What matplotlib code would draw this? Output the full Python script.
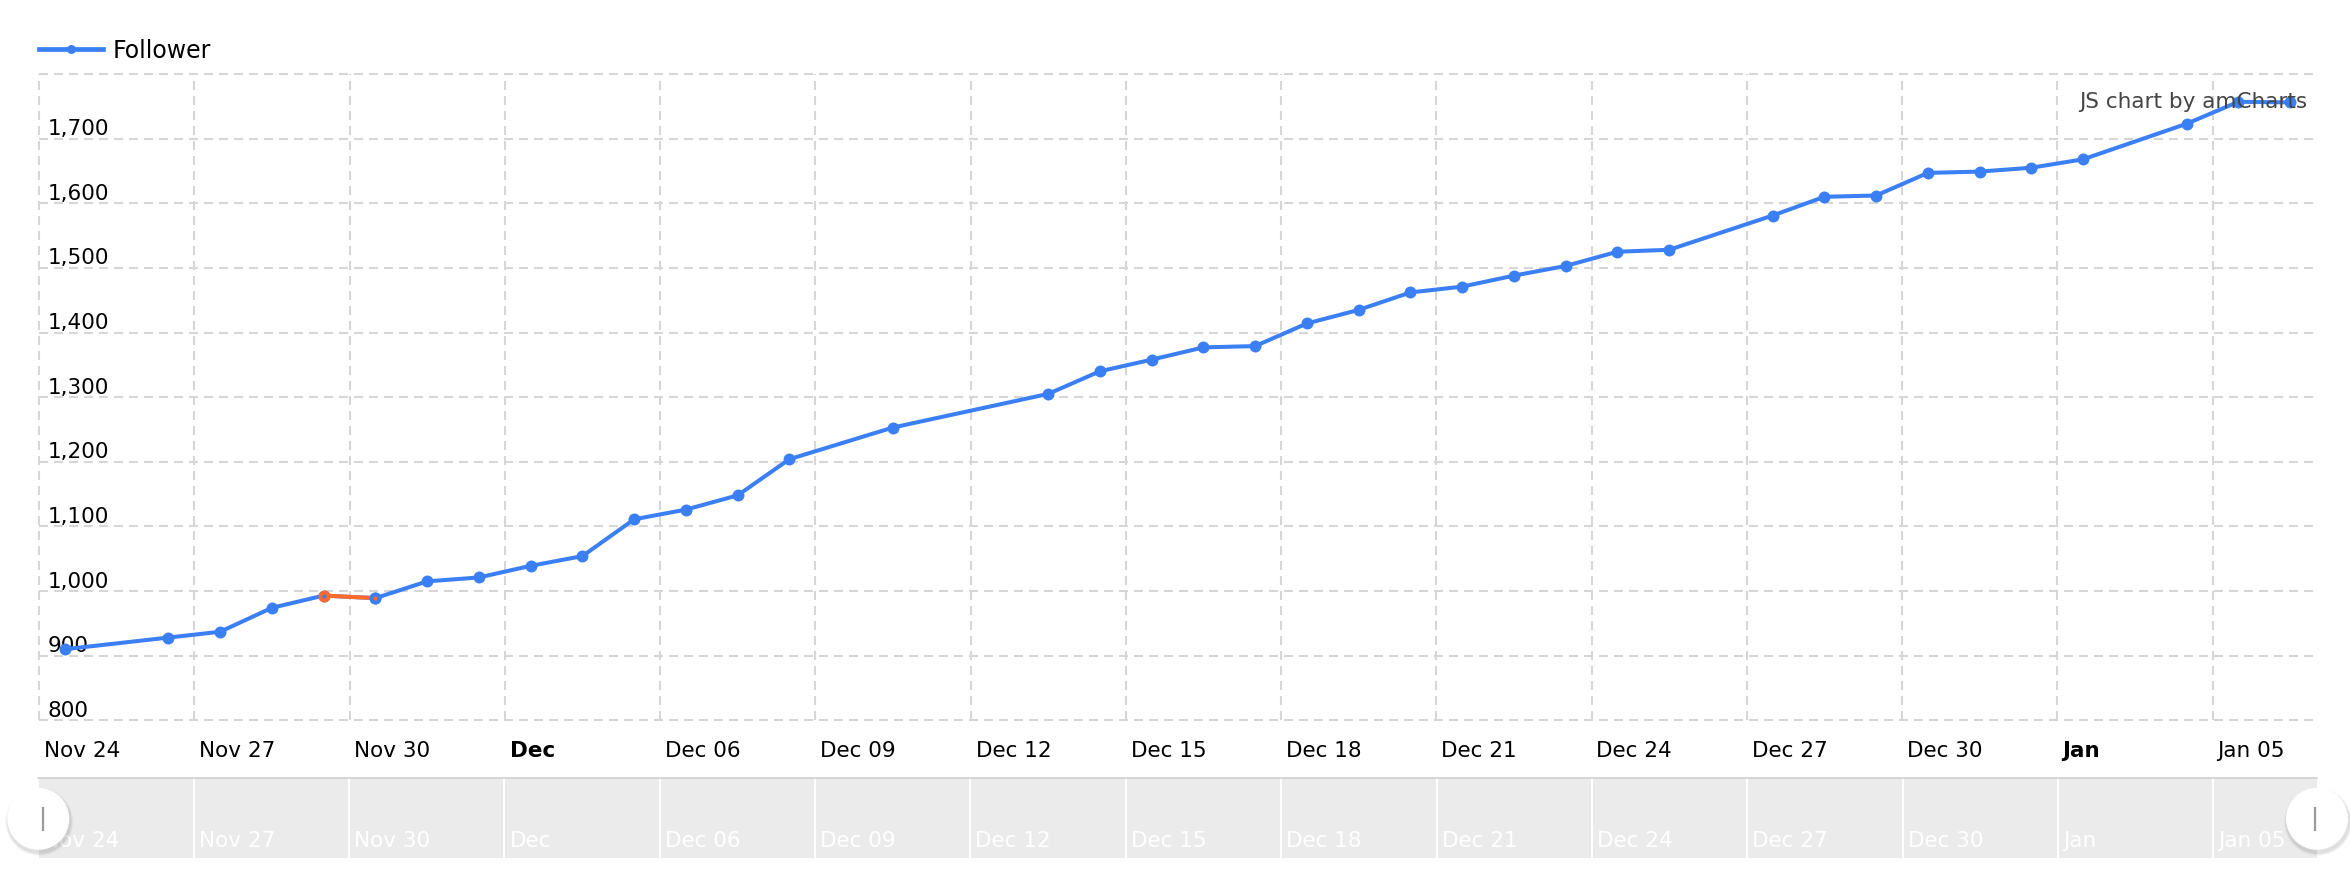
import pandas as pd
import matplotlib
matplotlib.use("Agg")
import matplotlib.pyplot as plt
from matplotlib.lines import Line2D
from matplotlib.patches import Circle
from matplotlib.transforms import ScaledTranslation, blended_transform_factory

# Werte
dates = ["2019-11-24", "2019-11-26", "2019-11-27", "2019-11-28", "2019-11-29",
         "2019-11-30", "2019-12-01", "2019-12-02", "2019-12-03", "2019-12-04",
         "2019-12-05", "2019-12-06", "2019-12-07", "2019-12-08", "2019-12-10",
         "2019-12-13", "2019-12-14", "2019-12-15", "2019-12-16", "2019-12-17",
         "2019-12-18", "2019-12-19", "2019-12-20", "2019-12-21", "2019-12-22",
         "2019-12-23", "2019-12-24", "2019-12-25", "2019-12-27", "2019-12-28",
         "2019-12-29", "2019-12-30", "2019-12-31", "2020-01-01", "2020-01-02",
         "2020-01-04", "2020-01-05", "2020-01-06"]
follower = [910, 928, 937, 974, 993,
            989, 1015, 1021, 1039, 1054,
            1111, 1126, 1148, 1204, 1253,
            1305, 1340, 1358, 1377, 1379,
            1414, 1435, 1462, 1471, 1488,
            1503, 1525, 1528, 1581, 1610,
            1612, 1647, 1649, 1655, 1668,
            1723, 1757, 1756]
highlight_start = "2019-11-29"   # Segment in Orange (bis zum naechsten Punkt)

x_start = "2019-11-24"
x_end = "2020-01-07"
tick_labels = ["Nov 24", "Nov 27", "Nov 30", "Dec", "Dec 06", "Dec 09", "Dec 12",
               "Dec 15", "Dec 18", "Dec 21", "Dec 24", "Dec 27", "Dec 30", "Jan", "Jan 05"]
y_ticks = [800, 900, 1000, 1100, 1200, 1300, 1400, 1500, 1600, 1700]
y_max = 1800

BLUE = "#3b7ff5"
ORANGE = "#ff6a2b"
GRID = "#d6d6d6"

W, H, DPI = 2350, 888, 100
FS = 15.5

plt.rcParams['font.family'] = ['DejaVu Sans']


def off(dx, dy, fig):
    # Pixel-Versatz (x nach rechts, y nach oben)
    return ScaledTranslation(dx / DPI, dy / DPI, fig.dpi_scale_trans)


fig = plt.figure(figsize=(W / DPI, H / DPI), dpi=DPI)

# Hauptdiagramm
left, right, top, bottom = 39, 2316, 74, 720.3
ax = fig.add_axes([left / W, 1 - bottom / H, (right - left) / W, (bottom - top) / H])

x = pd.to_datetime(dates) + pd.Timedelta(hours=12)
t0 = pd.Timestamp(x_start)
t1 = pd.Timestamp(x_end)
tick_dates = [t0 + pd.Timedelta(days=3 * k) for k in range(len(tick_labels))]

ax.set_xlim(t0, t1)
ax.set_ylim(y_ticks[0], y_max)
for s in ax.spines.values():
    s.set_visible(False)
ax.set_xticks([])
ax.set_yticks([])

dash = (0, (4.3, 2.9))
for v in y_ticks + [y_max]:
    ax.axhline(v, color=GRID, lw=1.5, ls=dash, clip_on=False, zorder=1)
for d in tick_dates:
    ax.axvline(d, color=GRID, lw=1.5, ls=dash, clip_on=False, zorder=1)

# y-Beschriftung innerhalb der Flaeche
ytr = blended_transform_factory(ax.transAxes, ax.transData)
for v in y_ticks:
    ax.text(0, v, f"{v:,}", transform=ytr + off(8.5, 3.5, fig), ha='left',
            va='baseline', fontsize=FS, color='black', zorder=2)

# x-Beschriftung
xtr = blended_transform_factory(ax.transData, ax.transAxes)
for d, lab in zip(tick_dates, tick_labels):
    bold = not any(c.isdigit() for c in lab)
    ax.text(d, 0, lab, transform=xtr + off(5, -37, fig), ha='left', va='baseline',
            fontsize=FS, fontweight='bold' if bold else 'normal', color='black')

# Linie
ax.plot(x, follower, color=BLUE, lw=2.9, marker='o', ms=8.6, mec='none',
        solid_joinstyle='round', solid_capstyle='round', zorder=3)
i = dates.index(highlight_start)
ax.plot(x[i:i + 2], follower[i:i + 2], color=ORANGE, lw=2.9, solid_capstyle='round', zorder=4)
ax.plot(x[i], follower[i], marker='o', ms=5.8, mfc=BLUE, mec=ORANGE, mew=2.8, zorder=5)
ax.plot(x[i + 1], follower[i + 1], marker='o', ms=5.8, mfc=ORANGE, mec=BLUE, mew=2.8, zorder=5)

# Legende
handle = Line2D([], [], color=BLUE, lw=3.4, marker='o', ms=6.5, mec='none')
ax.legend(handles=[handle], labels=["Follower"], loc='center left',
          bbox_to_anchor=(left / W, 1 - 50.7 / H), bbox_transform=fig.transFigure,
          frameon=False, borderpad=0, borderaxespad=0, handlelength=2.7,
          handletextpad=0.42, fontsize=17, numpoints=1)

# Wasserzeichen
fig.text(2307 / W, 1 - 108 / H, "JS chart by amCharts", ha='right', va='baseline',
         fontsize=FS, color='#444444', zorder=10)

# Scrollbar
s_left, s_right, s_top, s_bottom = 38.3, 2317, 778.3, 857.7
sb = fig.add_axes([s_left / W, 1 - s_bottom / H, (s_right - s_left) / W, (s_bottom - s_top) / H])
sb.set_facecolor('#ebebeb')
sb.set_xlim(t0, t1)
sb.set_ylim(0, 1)
for s in sb.spines.values():
    s.set_visible(False)
sb.set_xticks([])
sb.set_yticks([])
sb.axhline(1, color='#d0d0d0', lw=1.2, clip_on=False)
sxtr = blended_transform_factory(sb.transData, sb.transAxes)
for d, lab in zip(tick_dates, tick_labels):
    sb.axvline(d, color='white', lw=1.4, zorder=1)
    sb.text(d, 0, lab, transform=sxtr + off(5, 10.5, fig), ha='left', va='baseline',
            fontsize=FS, color='white', zorder=2)

# Griffe der Scrollbar
ov = fig.add_axes([0, 0, 1, 1], zorder=20)
ov.set_xlim(0, W)
ov.set_ylim(H, 0)
ov.axis('off')
ov.patch.set_alpha(0)
for cx in (s_left, s_right):
    cy = 818.8
    for r, a in ((34, 0.03), (33, 0.04), (32, 0.06)):
        ov.add_patch(Circle((cx + 1, cy + 3), r, color='black', alpha=a, lw=0))
    ov.add_patch(Circle((cx, cy), 31, color='white', lw=0))
ov.plot([42.7, 42.7], [808, 830], color='#999999', lw=1.6)
ov.plot([2315, 2315], [808, 830], color='#999999', lw=1.6)

fig.savefig("out.png", dpi=DPI)
